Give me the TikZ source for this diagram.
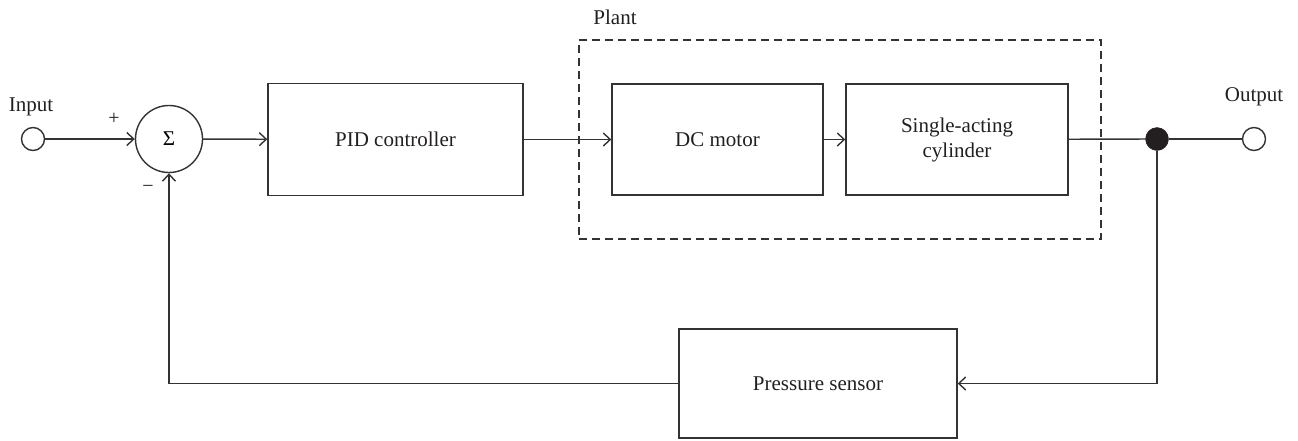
\documentclass[tikz,border=0pt]{standalone}
\usepackage{fontspec}
\setmainfont{Liberation Serif}
\usetikzlibrary{arrows.meta}
\definecolor{ink}{HTML}{231F20}
\definecolor{wire}{HTML}{333333}
\tikzset{
  blk/.style={draw=wire, line width=1.4pt, rectangle, inner sep=0pt, align=center, text=ink, font=\fontsize{21}{25}\selectfont},
  port/.style={draw=wire, line width=1.4pt, circle, inner sep=0pt, minimum size=23pt, fill=white},
  junc/.style={draw=ink, circle, inner sep=0pt, minimum size=23pt, fill=ink},
  lbl/.style={text=ink, font=\fontsize{21}{25}\selectfont, inner sep=0pt},
  sgn/.style={text=ink, font=\fontsize{20}{24}\selectfont, inner sep=0pt},
  wirel/.style={draw=wire, line width=1.4pt},
  arr/.style={wirel, -{Straight Barb[length=7pt,width=13pt,line width=1.4pt]}},
  plantbox/.style={draw=wire, line width=1.4pt, dash pattern=on 8pt off 5pt, rectangle, inner sep=0pt}
}
\begin{document}
\begin{tikzpicture}[x=1pt,y=-1pt]
\useasboundingbox (0,0) rectangle (1298,440);
% plant dashed box
\node[plantbox, minimum width=522pt, minimum height=199pt] (plant) at (840,139.5) {};
\node[lbl] (plantlbl) at (615,17) {Plant};
% ports
\node[port] (in) at (33,139) {};
\node[lbl] (inlbl) at (31,107) {Input};
\node[port, minimum size=67pt] (sum) at (169,139) {\fontsize{21}{24}\selectfont Σ};
\node[sgn] (plus) at (114,119) {+};
\node[sgn] (minus) at (148,189) {−};
% blocks
\node[blk, minimum width=255pt, minimum height=112pt] (pid) at (395.5,139.5) {PID controller};
\node[blk, minimum width=211pt, minimum height=111pt] (dc) at (717.5,139.5) {DC motor};
\node[blk, minimum width=222pt, minimum height=111pt] (cyl) at (957,139.5) {Single-acting\\cylinder};
\node[blk, minimum width=278pt, minimum height=109pt] (sens) at (818,383.5) {Pressure sensor};
% junction and output
\node[junc] (dot) at (1157,139) {};
\node[port] (out) at (1254,139) {};
\node[lbl] (outlbl) at (1254,97) {Output};
% connectors
\draw[arr] (in) -- (sum);
\draw[arr] (sum) -- (pid);
\draw[arr] (pid) -- (dc);
\draw[arr] (dc) -- (cyl);
\draw[wirel] (cyl) -- (dot);
\draw[wirel] (dot) -- (out);
\draw[arr] (dot) |- (sens.east);
\draw[arr] (sens.west) -| (sum.south);
\end{tikzpicture}
\end{document}
